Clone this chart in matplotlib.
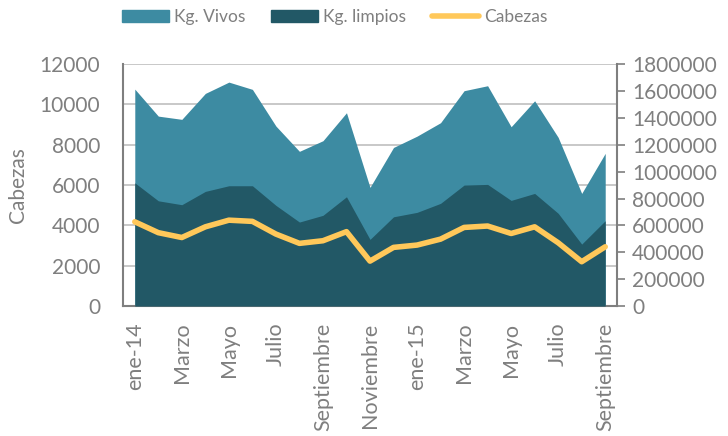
import numpy as np
import matplotlib
matplotlib.use("Agg")
import matplotlib.pyplot as plt
from matplotlib.patches import Patch
from matplotlib.lines import Line2D
from matplotlib.ticker import FuncFormatter

plt.rcParams['font.family'] = ['Lato', 'DejaVu Sans']

# meses ene-14 .. sep-15
meses = ['ene-14', 'feb', 'Marzo', 'abr', 'Mayo', 'jun', 'Julio', 'ago',
         'Septiembre', 'oct', 'Noviembre', 'dic', 'ene-15', 'feb', 'Marzo',
         'abr', 'Mayo', 'jun', 'Julio', 'ago', 'Septiembre']
kg_vivos = [1614000, 1413000, 1389000, 1582000, 1666000, 1612000, 1339000,
            1151000, 1230000, 1438000, 883000, 1180000, 1264000, 1364000,
            1602000, 1639000, 1334000, 1527000, 1255000, 838000, 1136000]
kg_limpios = [917000, 783000, 754000, 853000, 895000, 895000, 749000,
              625000, 675000, 813000, 496000, 664000, 697000, 764000,
              900000, 905000, 786000, 838000, 690000, 461000, 635000]
cabezas = [4180, 3640, 3400, 3930, 4260, 4200, 3570, 3110, 3240, 3690, 2230,
           2910, 3025, 3320, 3900, 3970, 3600, 3930, 3140, 2200, 2940]

c_vivos = '#3d8ba2'
c_limpios = '#225866'
c_cab = '#ffc85a'
gris = '#7f7f7f'

x = np.arange(len(meses))
fmt = FuncFormatter(lambda v, p: '%d' % v)

fig = plt.figure(figsize=(7.28, 4.36), dpi=100)
ax = fig.add_axes([0.169, 0.298, 0.6785, 0.555])

# areas on the kg axis (right side)
ax.fill_between(x, 0, kg_vivos, color=c_vivos, lw=0, zorder=2)
ax.fill_between(x, 0, kg_limpios, color=c_limpios, lw=0, zorder=3)
ax.set_ylim(0, 1800000)
ax.set_xlim(-0.5, len(meses) - 0.5)

# cabezas line on left axis
ax2 = ax.twinx()
ax2.plot(x, cabezas, color=c_cab, lw=4, solid_capstyle='round',
         solid_joinstyle='round', zorder=5)
ax2.set_ylim(0, 12000)
ax2.yaxis.tick_left()
ax2.yaxis.set_label_position('left')
ax2.set_yticks(np.arange(0, 12001, 2000))
ax2.yaxis.set_major_formatter(fmt)
ax2.tick_params(axis='y', length=0, labelsize=15, labelcolor=gris, pad=16.5)
ax2.set_ylabel('Cabezas', fontsize=15, color=gris, labelpad=8)
for s in ax2.spines.values():
    s.set_visible(False)

ax.yaxis.tick_right()
ax.yaxis.remove_overlapping_locs = False
ax.set_yticks(np.arange(0, 1800001, 200000))
ax.set_yticks(np.arange(0, 1800001, 300000), minor=True)
ax.yaxis.set_major_formatter(fmt)
ax.grid(True, which='minor', axis='y', color='#bfbfbf', lw=1.2, zorder=0)
ax.set_axisbelow(True)
ax.tick_params(axis='y', which='major', direction='out', length=6, color=gris,
               width=1.2, labelsize=15, labelcolor=gris, pad=5,
               left=False, right=True, labelleft=False, labelright=True)
ax.tick_params(axis='y', which='minor', length=0)
ax.set_xticks(x[::2])
ax.set_xticklabels(meses[::2], rotation=90)
ax.tick_params(axis='x', length=0, labelsize=15.5, labelcolor=gris, pad=12)
for s in ['left', 'bottom', 'right']:
    ax.spines[s].set_color(gris)
    ax.spines[s].set_linewidth(1.5)
ax.spines['top'].set_visible(False)

handles = [Patch(color=c_vivos), Patch(color=c_limpios),
           Line2D([0], [0], color=c_cab, lw=4, solid_capstyle='round')]
leg = fig.legend(handles, ['Kg. Vivos', 'Kg. limpios', 'Cabezas'], ncol=3,
                 loc='center', bbox_to_anchor=(0.46, 0.961), frameon=False,
                 fontsize=12.5, handlelength=2.7, handleheight=0.7,
                 handletextpad=0.3, columnspacing=1.5)
for t in leg.get_texts():
    t.set_color(gris)

fig.savefig('out.png', dpi=100)
